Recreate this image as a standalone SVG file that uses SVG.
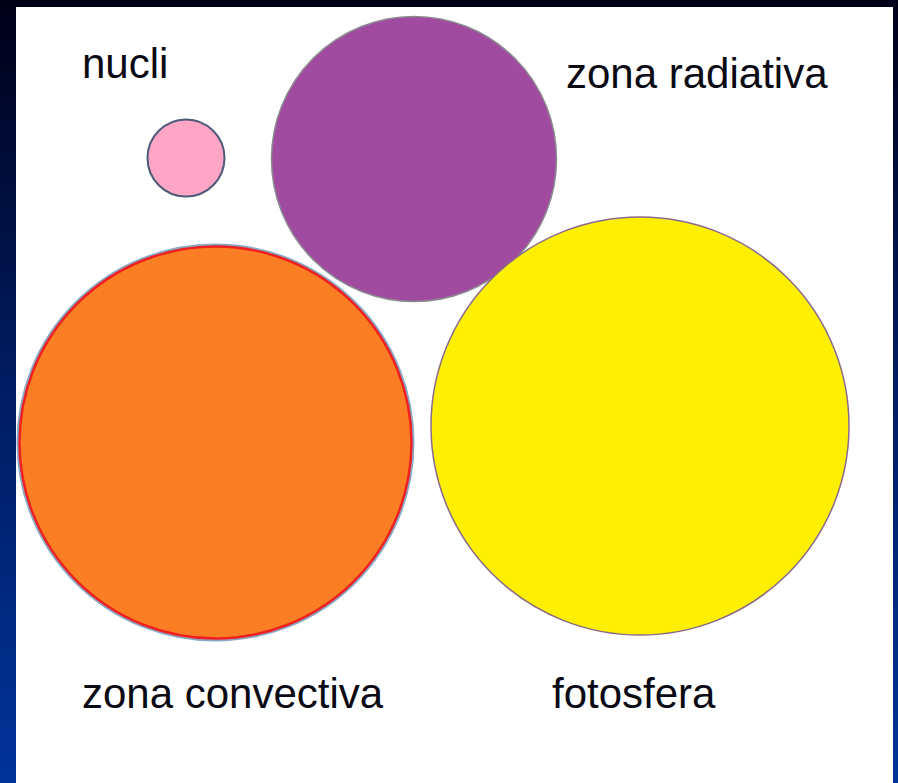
<svg xmlns="http://www.w3.org/2000/svg" width="898" height="783" viewBox="0 0 898 783">
<defs>
<linearGradient id="bg" x1="0" y1="0" x2="0" y2="1">
<stop offset="0" stop-color="#000018"/>
<stop offset="0.45" stop-color="#001a5c"/>
<stop offset="1" stop-color="#003399"/>
</linearGradient>
<style>
.lbl{font-family:"Liberation Sans",Arial,sans-serif;font-size:42px;fill:#0a0a14}
</style>
</defs>
<rect width="898" height="783" fill="url(#bg)"/>
<rect x="16" y="7" width="877" height="776" fill="#ffffff"/>
<g id="nucli">
<circle cx="186" cy="158" r="38.5" fill="#ffa5c5" stroke="#4a5a78" stroke-width="2"/>
<text class="lbl" x="82" y="78">nucli</text>
</g>
<g id="zona-radiativa">
<circle cx="414" cy="159" r="142.5" fill="#a04aa0" stroke="#8a8a90" stroke-width="1.5"/>
<text class="lbl" x="566" y="88">zona radiativa</text>
</g>
<g id="zona-convectiva">
<circle cx="215.5" cy="442.5" r="197.5" fill="#fc7e24" stroke="#8aa8c8" stroke-width="3"/>
<circle cx="215.5" cy="442.5" r="196" fill="none" stroke="#ee2020" stroke-width="2.5"/>
<text class="lbl" x="82" y="708">zona convectiva</text>
</g>
<g id="fotosfera">
<circle cx="640" cy="426" r="209" fill="#fff000" stroke="#8a6a8a" stroke-width="1.5"/>
<text class="lbl" x="552" y="708">fotosfera</text>
</g>
<g id="connectors"/>
</svg>
